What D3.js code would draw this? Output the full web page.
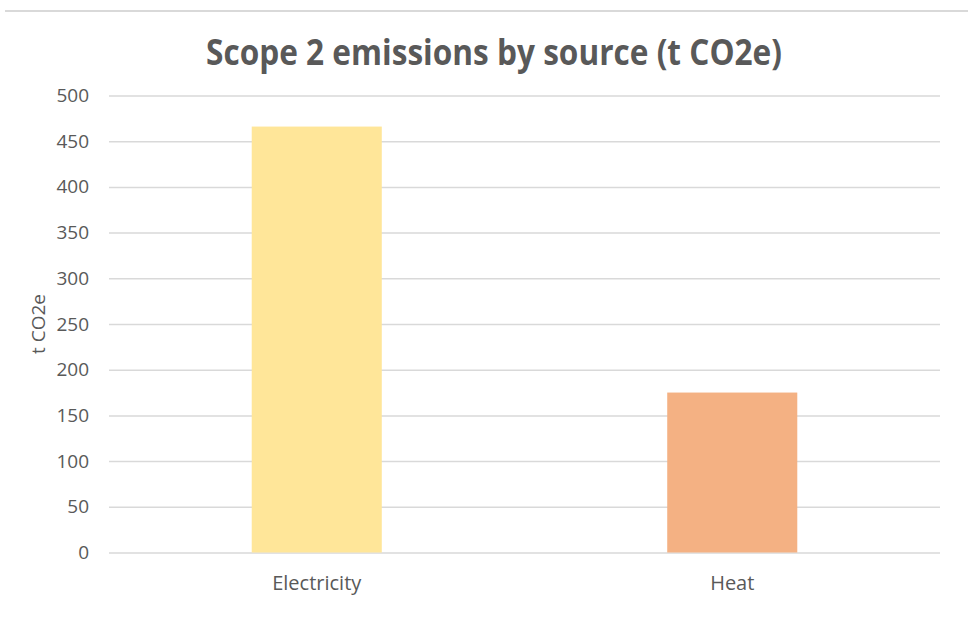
<!DOCTYPE html>
<html>
<head>
<meta charset="utf-8">
<script src="https://cdn.jsdelivr.net/npm/d3@7"></script>
<style>
  html, body { margin: 0; padding: 0; background: #fff; }
  svg { display: block; }
  svg text { font-family: "Open Sans", "Liberation Sans", sans-serif; }
</style>
</head>
<body>
<svg id="chart" width="968" height="628"></svg>
<script>
// Scope 2 emissions by source
const categories = ["Electricity", "Heat"];
const emissions = [466, 175];
const barColors = ["#FFE699", "#F4B183"];
const yTicks = [0, 50, 100, 150, 200, 250, 300, 350, 400, 450, 500];
const chartTitle = "Scope 2 emissions by source (t CO2e)";
const yTitle = "t CO2e";

const svg = d3.select("#chart");
const W = 968, H = 628;
const margin = { left: 109, right: 28, top: 95.5, bottom: 75.5 };
const plotW = W - margin.left - margin.right;
const plotH = H - margin.top - margin.bottom;
const textColor = "#595959";
const fontStack = "'Open Sans', 'Liberation Sans', sans-serif";

// top frame line
svg.append("line")
  .attr("x1", 5).attr("x2", W).attr("y1", 11).attr("y2", 11)
  .attr("stroke", "#d9d9d9").attr("stroke-width", 2);

const x = d3.scaleBand()
  .domain(categories)
  .range([margin.left, margin.left + plotW])
  .paddingInner(0.687)
  .paddingOuter(0.3435);

const y = d3.scaleLinear()
  .domain([0, 500])
  .range([margin.top + plotH, margin.top]);

// gridlines + y tick labels
const yAxis = d3.axisLeft(y)
  .tickValues(yTicks)
  .tickSize(-plotW)
  .tickPadding(20)
  .tickFormat(d3.format("d"));

const gy = svg.append("g")
  .attr("transform", `translate(${margin.left},0)`)
  .call(yAxis)
  .attr("font-family", fontStack)
  .attr("font-size", 19);
gy.select(".domain").remove();
gy.selectAll(".tick line").attr("stroke", "#d9d9d9").attr("stroke-width", 1.5);
gy.selectAll(".tick text").attr("fill", textColor);

// bars
svg.append("g").selectAll("rect")
  .data(categories)
  .join("rect")
  .attr("x", d => x(d))
  .attr("width", x.bandwidth())
  .attr("y", (d, i) => y(emissions[i]))
  .attr("height", (d, i) => y(0) - y(emissions[i]))
  .attr("fill", (d, i) => barColors[i]);

// category axis labels
const xAxis = d3.axisBottom(x).tickSize(0).tickPadding(23);
const gx = svg.append("g")
  .attr("transform", `translate(0,${y(0)})`)
  .call(xAxis)
  .attr("font-family", fontStack)
  .attr("font-size", 20);
gx.select(".domain").remove();
gx.selectAll(".tick text").attr("fill", textColor);

// y-axis title
svg.append("text")
  .attr("transform", `translate(45,${y(250)}) rotate(-90)`)
  .attr("text-anchor", "middle")
  .attr("fill", textColor)
  .style("font-size", "19px")
  .text(yTitle);

// chart title
svg.append("text")
  .attr("x", 494)
  .attr("y", 64.5)
  .attr("text-anchor", "middle")
  .attr("fill", textColor)
  .attr("textLength", 576)
  .attr("lengthAdjust", "spacingAndGlyphs")
  .style("font-size", "35px")
  .style("font-weight", "bold")
  .text(chartTitle);
</script>
</body>
</html>
